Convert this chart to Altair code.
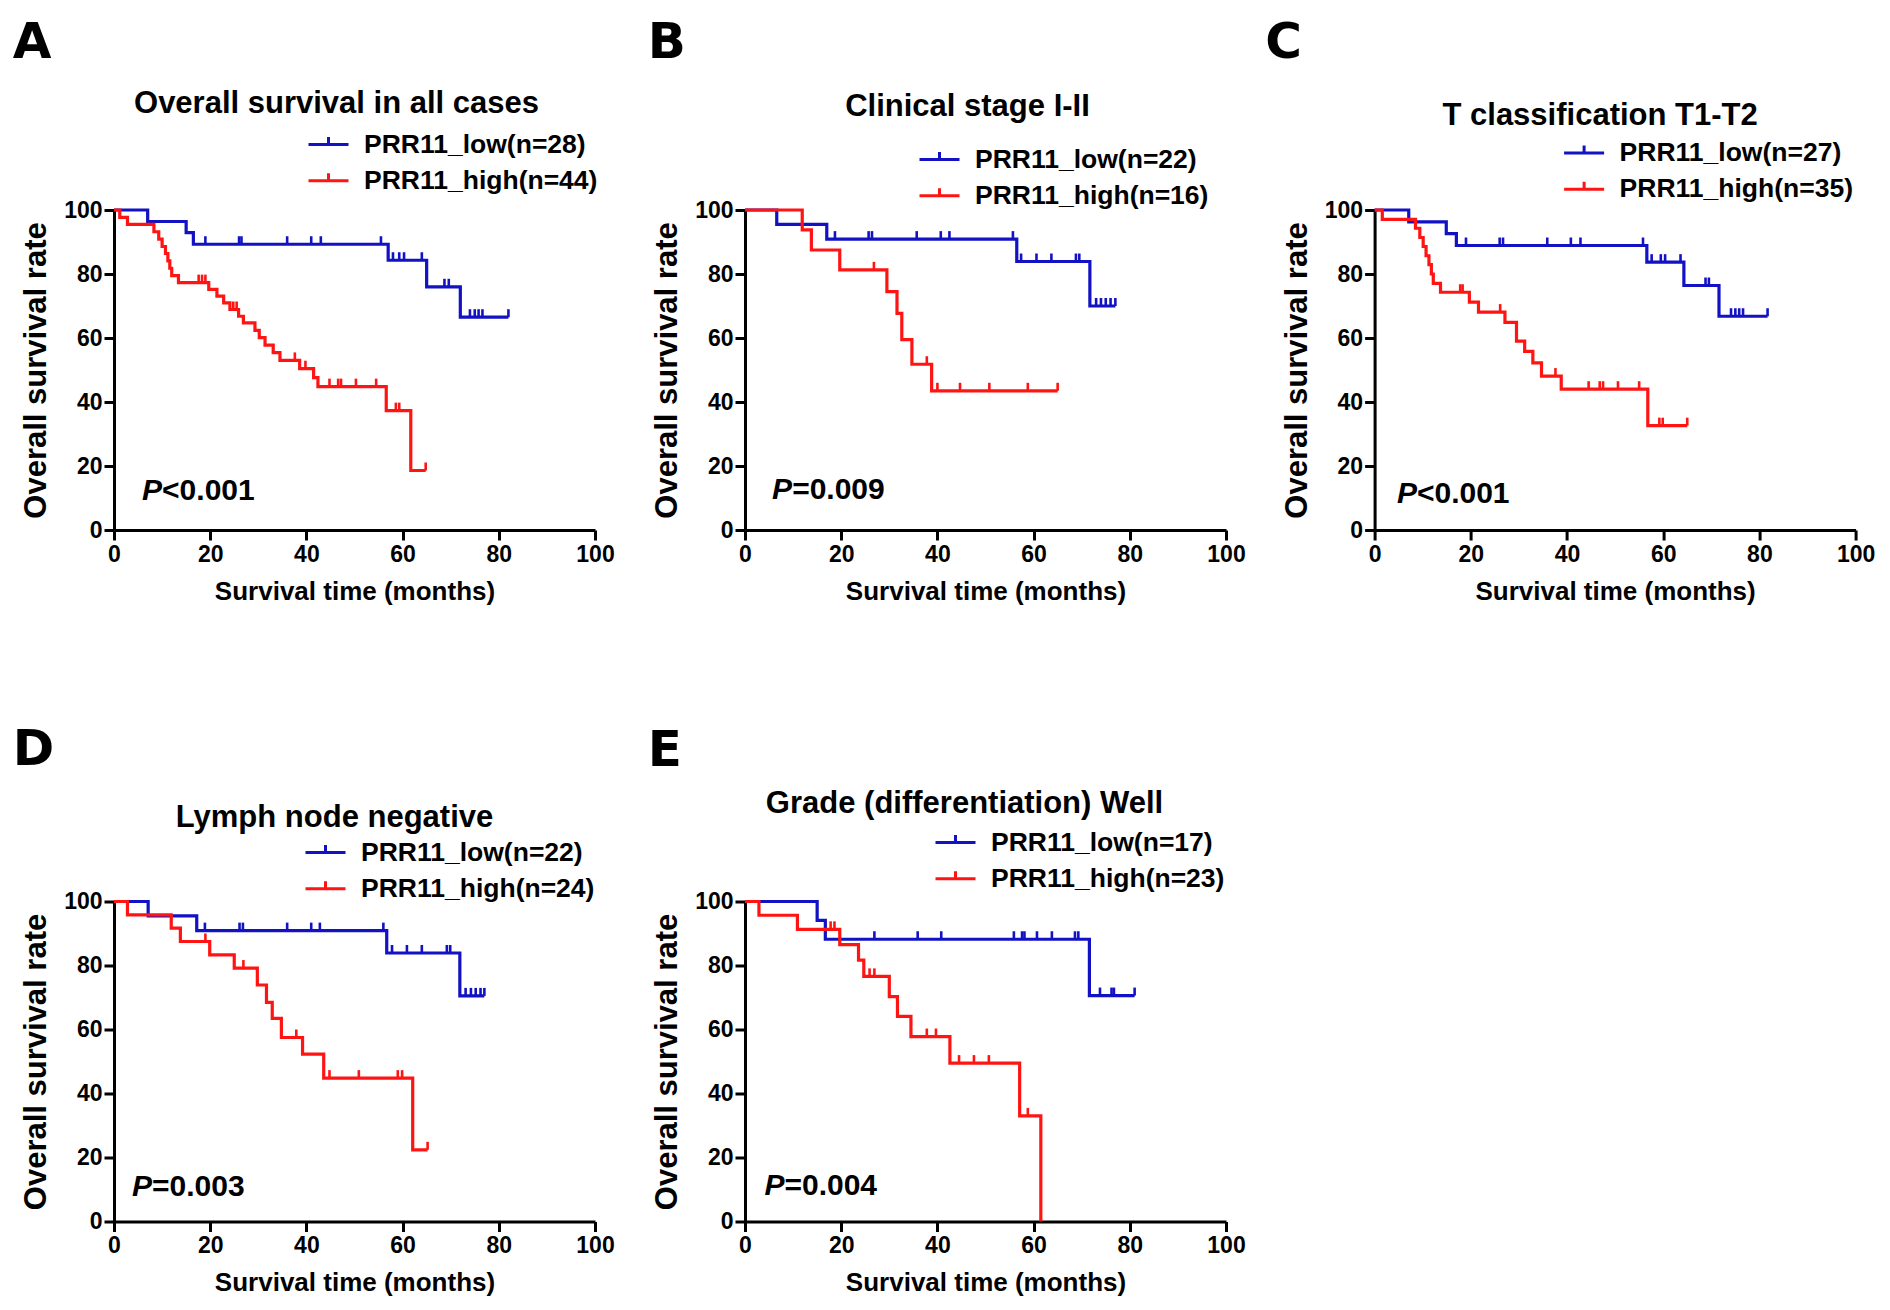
import altair as alt
import pandas as pd

BLUE = "#1212c4"
RED = "#ff1414"
FONT = "Liberation Sans"
LETTER_FONT = "DejaVu Sans"

# ---------------- data ----------------
# Panel A
A_title = "Overall survival in all cases"
A_low_label = "PRR11_low(n=28)"
A_high_label = "PRR11_high(n=44)"
A_low_t = [7, 15, 16.5, 57, 65, 72]
A_low_s = [96.4, 92.9, 89.3, 84.3, 76.0, 66.5]
A_low_c = [19, 26, 26.5, 36, 41, 43, 55.5, 58, 59.3, 60.3, 64, 68.7, 69.6, 74, 75, 75.8, 76.6, 82]
A_high_t = [1.2, 2.8, 8.3, 9.3, 10.0, 10.7, 11.2, 11.6, 12.0, 13.4, 19.7, 21.4, 22.8, 24.1, 25.9, 26.9,
            29.3, 30.2, 31.4, 33.1, 34.5, 38.6, 41.5, 42.4, 56.6, 61.7]
A_high_s = [97.7, 95.5, 93.2, 90.9, 88.6, 86.4, 84.1, 81.8, 79.5, 77.3, 75.2, 73.1, 71.0, 68.9, 66.8, 64.7,
            62.4, 60.1, 57.8, 55.4, 53.0, 50.4, 47.6, 44.8, 37.3, 18.6]
A_high_c = [17.6, 18.3, 19.0, 24.8, 25.5, 37.6, 39.8, 44.8, 46.6, 47.2, 50.3, 54.5, 58.6, 59.3, 64.8]
A_p = "<0.001"

# Panel B
B_title = "Clinical stage I-II"
B_low_label = "PRR11_low(n=22)"
B_high_label = "PRR11_high(n=16)"
B_low_t = [6.6, 17, 56.5, 71.7]
B_low_s = [95.5, 90.9, 83.9, 70.0]
B_low_c = [18.7, 25.7, 26.4, 35.7, 40.7, 42.5, 55.7, 57.4, 60.6, 63.7, 68.8, 69.5, 73, 74, 75, 76, 77]
B_high_t = [11.9, 13.8, 19.7, 29.5, 31.6, 32.6, 34.7, 38.8]
B_high_s = [93.8, 87.5, 81.3, 74.5, 67.7, 59.5, 51.8, 43.5]
B_high_c = [26.8, 37.8, 40, 44.7, 50.8, 58.8, 65]
B_p = "=0.009"

# Panel C
C_title = "T classification T1-T2"
C_low_label = "PRR11_low(n=27)"
C_high_label = "PRR11_high(n=35)"
C_low_t = [7.1, 14.9, 17, 56.6, 64.3, 71.6]
C_low_s = [96.3, 92.6, 88.9, 83.7, 76.4, 66.8]
C_low_c = [19, 26, 26.7, 35.9, 40.8, 42.8, 55.8, 57.6, 59.5, 60.4, 63.6, 68.8, 69.5, 74.1, 75, 75.8, 76.6, 81.7]
C_high_t = [1.6, 8.5, 9.4, 10.1, 10.7, 11.3, 11.8, 12.2, 13.7, 19.7, 21.6, 27.1, 29.5, 31.2, 32.9, 34.7, 38.8, 56.8]
C_high_s = [97.1, 94.3, 91.4, 88.6, 85.7, 82.9, 80.0, 77.1, 74.3, 71.2, 68.1, 64.9, 59.0, 55.8, 52.2, 48.1, 44.0, 32.6]
C_high_c = [17.8, 18.3, 26.1, 37.6, 44.5, 46.8, 47.5, 50.6, 55, 59.2, 59.9, 65]
C_p = "<0.001"

# Panel D
D_title = "Lymph node negative"
D_low_label = "PRR11_low(n=22)"
D_high_label = "PRR11_high(n=24)"
D_low_t = [7.1, 17.2, 56.7, 71.9]
D_low_s = [95.5, 90.9, 83.9, 70.5]
D_low_c = [18.9, 26.1, 26.8, 36, 41, 42.8, 56, 57.8, 60.9, 64, 69.2, 69.9, 73.1, 74.2, 75.2, 76.2, 77]
D_high_t = [2.8, 11.9, 13.8, 19.9, 25, 29.8, 31.7, 32.9, 34.8, 39.2, 43.6, 62.1]
D_high_s = [95.8, 91.7, 87.5, 83.3, 79.2, 73.9, 68.5, 63.5, 57.5, 52.3, 44.8, 22.4]
D_high_c = [19, 26.9, 37.9, 44.8, 50.9, 59, 59.9, 65.2]
D_p = "=0.003"

# Panel E
E_title = "Grade (differentiation) Well"
E_low_label = "PRR11_low(n=17)"
E_high_label = "PRR11_high(n=23)"
E_low_t = [15, 16.7, 71.6]
E_low_s = [94.1, 88.2, 70.6]
E_low_c = [26.9, 35.9, 40.8, 55.9, 57.6, 58.1, 60.7, 63.8, 68.6, 69.3, 73.8, 76.2, 76.7, 81]
E_high_t = [2.9, 10.9, 19.7, 23.6, 24.7, 30, 31.7, 34.5, 42.6, 57.1, 61.5]
E_high_s = [95.7, 91.3, 86.5, 81.7, 76.6, 70.3, 64.1, 57.8, 49.5, 33.0, 0]
E_high_c = [17.8, 18.6, 25.9, 26.9, 37.8, 39.7, 44.5, 47.6, 50.7, 58.8]
E_p = "=0.004"

X_TICKS = [0, 20, 40, 60, 80, 100]
Y_TICKS = [0, 20, 40, 60, 80, 100]
X_TITLE = "Survival time (months)"
Y_TITLE = "Overall survival rate"

# ---------------- helpers ----------------
W, H = 481, 320
CENSOR = "M0,0L0,-1"
LEG_SYM = "M-1,0L1,0M0,0L0,-0.38"
IND = dict(color="independent", stroke="independent")


def step_rows(label, times, surv, cens):
    rows = [{"t": 0.0, "s": 100.0, "g": label}]
    rows += [{"t": t, "s": s, "g": label} for t, s in zip(times, surv)]
    if cens and max(cens) > times[-1]:
        rows.append({"t": max(cens), "s": surv[-1], "g": label})
    return rows


def censor_rows(label, times, surv, cens):
    out = []
    for c in cens:
        level = 100.0
        for t, s in zip(times, surv):
            if t <= c:
                level = s
        out.append({"t": c, "s": level, "g": label})
    return out


def panel(letter, title, lo, hi, lo_t, lo_s, lo_c, hi_t, hi_s, hi_c, ptxt, lay):
    lines = pd.DataFrame(step_rows(lo, lo_t, lo_s, lo_c) + step_rows(hi, hi_t, hi_s, hi_c))
    cens = pd.DataFrame(censor_rows(lo, lo_t, lo_s, lo_c) + censor_rows(hi, hi_t, hi_s, hi_c))
    dom = [lo, hi]
    xs = alt.Scale(domain=[0, 100], nice=False)
    ys = alt.Scale(domain=[0, 100], nice=False)
    xax = alt.Axis(values=X_TICKS, title=X_TITLE, labelFlush=False, format="d")
    yax = alt.Axis(values=Y_TICKS, title=Y_TITLE, labelFlush=False, format="d")

    line_layer = alt.Chart(lines).mark_line(interpolate="step-after", strokeWidth=3.2).encode(
        x=alt.X("t:Q", scale=xs, axis=xax),
        y=alt.Y("s:Q", scale=ys, axis=yax),
        color=alt.Color("g:N", scale=alt.Scale(domain=dom, range=[BLUE, RED]),
                        legend=alt.Legend(title=None, orient="none", direction="vertical",
                                          legendX=lay["lx"], legendY=lay["ly"])),
        order=alt.Order("t:Q"),
    )
    tick_layer = alt.Chart(cens).mark_point(shape=CENSOR, size=256, filled=False,
                                            strokeWidth=2.6, opacity=1).encode(
        x=alt.X("t:Q", scale=xs),
        y=alt.Y("s:Q", scale=ys),
        stroke=alt.Stroke("g:N", scale=alt.Scale(domain=dom, range=[BLUE, RED]), legend=None),
    )
    pdf = pd.DataFrame({"x": [lay["px"]], "y": [lay["py"]], "a": ["P"], "b": [ptxt]})
    p1 = alt.Chart(pdf).mark_text(align="right", baseline="middle", font=FONT, fontSize=30,
                                  fontStyle="italic", fontWeight="bold", color="black").encode(
        x=alt.X("x:Q", scale=xs), y=alt.Y("y:Q", scale=ys), text="a:N")
    p2 = alt.Chart(pdf).mark_text(align="left", baseline="middle", font=FONT, fontSize=30,
                                  fontWeight="bold", color="black").encode(
        x=alt.X("x:Q", scale=xs), y=alt.Y("y:Q", scale=ys), text="b:N")

    inner = alt.layer(line_layer, tick_layer, p1, p2).properties(
        width=W, height=H,
        title=alt.Title(title, anchor="middle", frame="group", dx=lay["tdx"], offset=lay["toff"],
                        fontSize=31, font=FONT, fontWeight="bold", color="black"),
    )
    outer = alt.vconcat(inner, title=alt.Title(letter, anchor="start", fontSize=50, font=LETTER_FONT,
                                               fontWeight="bold", color="black",
                                               offset=lay["loff"], dx=lay["ldx"])).resolve_scale(**IND)
    return outer


A = panel("A", A_title, A_low_label, A_high_label, A_low_t, A_low_s, A_low_c, A_high_t, A_high_s, A_high_c,
          A_p, dict(lx=193, ly=-87, px=10.0, py=12.3, tdx=-18, toff=3, loff=20.5, ldx=-8))
B = panel("B", B_title, B_low_label, B_high_label, B_low_t, B_low_s, B_low_c, B_high_t, B_high_s, B_high_c,
          B_p, dict(lx=173, ly=-72, px=9.8, py=12.4, tdx=-18, toff=15.5, loff=23, ldx=-4))
C = panel("C", C_title, C_low_label, C_high_label, C_low_t, C_low_s, C_low_c, C_high_t, C_high_s, C_high_c,
          C_p, dict(lx=188, ly=-78.5, px=8.8, py=11.4, tdx=-15, toff=-0.5, loff=32.5, ldx=-16))
D = panel("D", D_title, D_low_label, D_high_label, D_low_t, D_low_s, D_low_c, D_high_t, D_high_s, D_high_c,
          D_p, dict(lx=190, ly=-70.5, px=7.9, py=10.9, tdx=-20, toff=-3, loff=27, ldx=-8))
E = panel("E", E_title, E_low_label, E_high_label, E_low_t, E_low_s, E_low_c, E_high_t, E_high_s, E_high_c,
          E_p, dict(lx=189, ly=-80.5, px=8.2, py=11.0, tdx=-21, toff=0.8, loff=12.7, ldx=-4))

ab = alt.hconcat(A, B, spacing=32).resolve_scale(**IND)
row1 = alt.hconcat(ab, C, spacing=18.6).resolve_scale(**IND)
row2 = alt.hconcat(D, E, spacing=32).resolve_scale(**IND)
chart = alt.vconcat(row1, row2, spacing=120.5).resolve_scale(**IND).properties(
    padding={"left": 4, "top": 9, "right": 0, "bottom": 0}
).configure_view(
    stroke=None
).configure_axis(
    domainColor="black", domainWidth=3, tickColor="black", tickWidth=3, tickSize=10,
    labelFont=FONT, labelFontSize=23, labelFontWeight="bold", labelColor="black",
    titleFont=FONT, titleFontWeight="bold", titleColor="black", grid=False,
).configure_axisX(titlePadding=12, labelPadding=3, titleFontSize=26).configure_axisY(
    titlePadding=11, labelPadding=2, titleFontSize=31
).configure_legend(
    symbolType=LEG_SYM, symbolSize=1600, symbolStrokeWidth=3, labelFont=FONT, labelFontSize=26.5,
    labelFontWeight="bold", labelColor="black", labelOffset=14, rowPadding=1.3, padding=0,
    labelLimit=400,
)

chart.save("out.html", embed_options={"renderer": "svg", "actions": False})
